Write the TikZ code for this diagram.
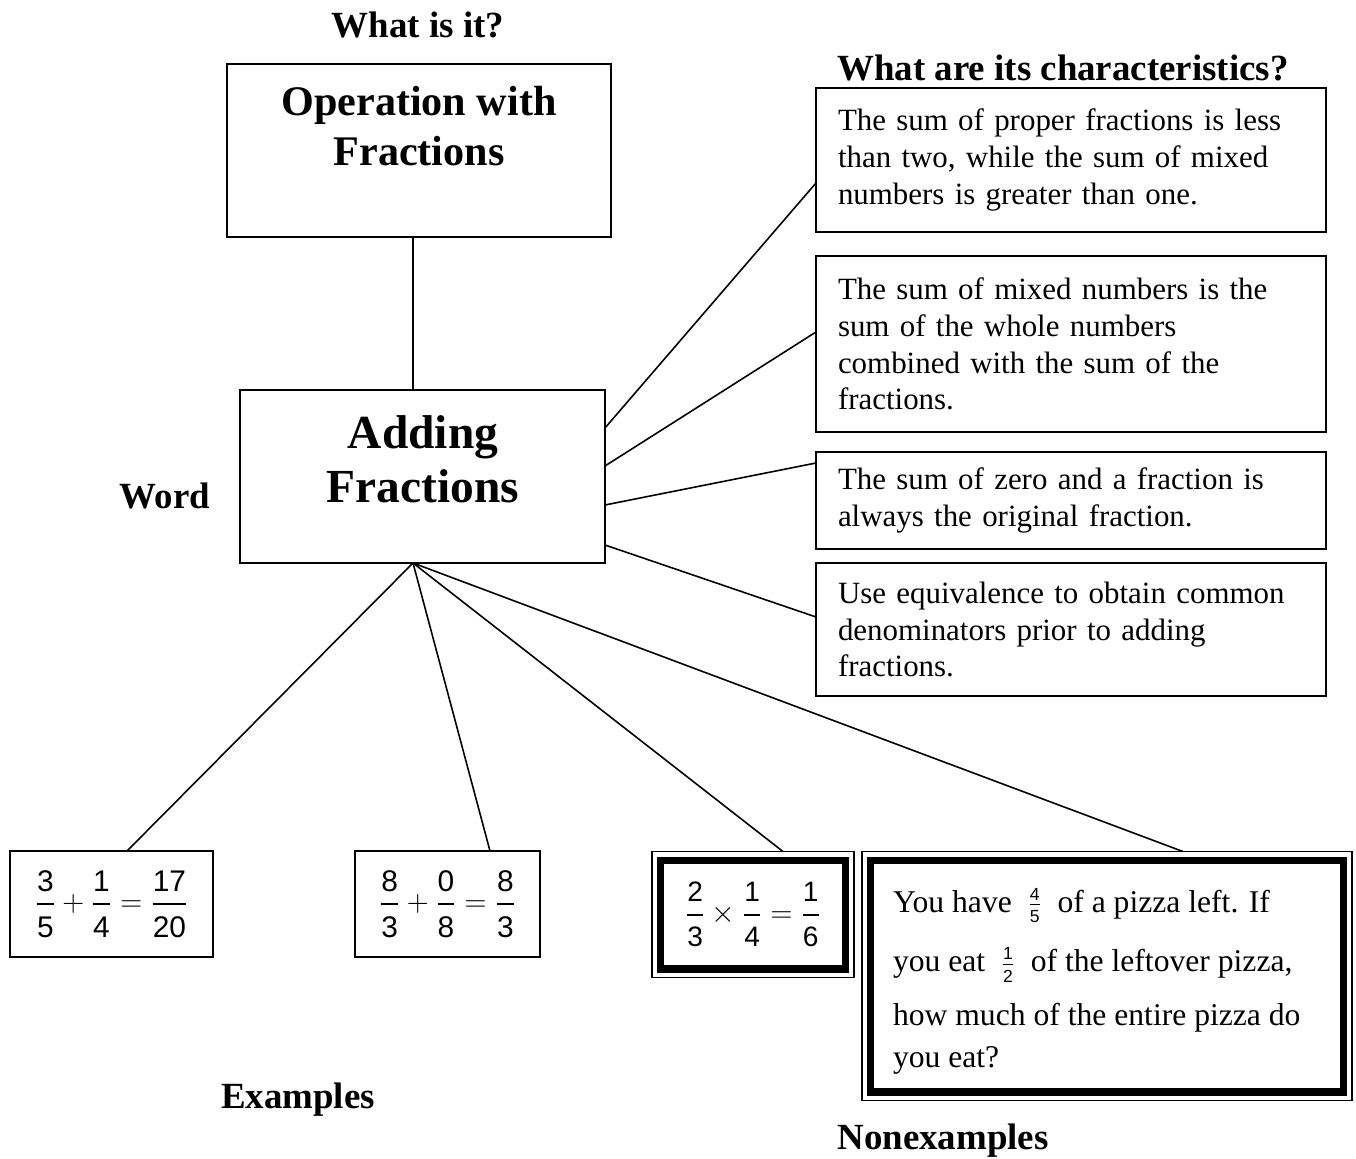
\documentclass[tikz,border=0pt]{standalone}
\usepackage{amsmath}
\usepackage{fontspec}
\setmainfont{Liberation Serif}
\newfontfamily\sansf{Liberation Sans}
\newcommand\bfr[2]{\genfrac{}{}{0.8pt}{0}{\mbox{\sansf #1}}{\mbox{\sansf\rule{0pt}{0.95em}#2}}}
\newcommand\sfr[2]{\genfrac{}{}{0.5pt}{1}{\mbox{\sansf\fontsize{10}{10}\selectfont #1}}{\mbox{\sansf\fontsize{10}{10}\selectfont #2}}}
\begin{document}
\begin{tikzpicture}[x=0.02cm,y=-0.02cm,
  every node/.style={inner sep=0pt,outer sep=0pt},
  box/.style={draw,line width=0.9pt},
  conn/.style={line width=0.9pt},
  head/.style={font={\fontsize{21}{25}\selectfont\bfseries}},
  big/.style={font={\fontsize{24}{28.5}\selectfont\bfseries},align=center},
  bigger/.style={font={\fontsize{27}{31}\selectfont\bfseries},align=center},
  cbox/.style={box,anchor=north west,minimum width=10.2cm,text width=9.32cm,inner xsep=0.44cm,
     align=left,font={\fontsize{17.6}{21}\selectfont}},
  ebox/.style={box,font={\fontsize{17}{20}\selectfont}},
  nbox/.style={box,path picture={\draw[line width=4pt]
     ([shift={(0.17cm,-0.17cm)}]path picture bounding box.north west) rectangle
     ([shift={(-0.17cm,0.17cm)}]path picture bounding box.south east);}}
]
\useasboundingbox (0,0) rectangle (1356,1159);

% headings
\node[head] (h1) at (418,25) {What is it?};
\node[head] (h2) at (1063,68) {What are its characteristics?};
\node[head] (h3) at (165,496) {Word};
\node[head] (h4) at (298,1100) {Examples};
\node[head] (h5) at (943,1141) {Nonexamples};

% central boxes
\node[box,minimum width=7.68cm,minimum height=3.46cm] (op) at (419,150.5) {};
\node[big] (optxt) at (419,126) {Operation with\\Fractions};
\node[box,minimum width=7.30cm,minimum height=3.46cm] (add) at (422.5,476.5) {};
\node[bigger] (addtxt) at (423,459.5) {Adding\\Fractions};

% characteristics
\node[cbox,minimum height=2.88cm] (c1) at (816,88) {The sum of proper fractions is less\\than two, while the sum of mixed\\numbers is greater than one.};
\node[cbox,minimum height=3.52cm] (c2) at (816,256) {The sum of mixed numbers is the\\sum of the whole numbers\\combined with the sum of the\\fractions.};
\node[cbox,minimum height=1.94cm] (c3) at (816,452) {The sum of zero and a fraction is\\always the original fraction.};
\node[cbox,minimum height=2.66cm,minimum width=10.12cm] (c4) at (816,563) {Use equivalence to obtain common\\denominators prior to adding\\fractions.};

% examples
\node[ebox,minimum width=4.06cm,minimum height=2.12cm] (e1) at (111.5,904) {$\bfr{3}{5}+\bfr{1}{4}=\bfr{17}{20}$};
\node[ebox,minimum width=3.70cm,minimum height=2.12cm] (e2) at (447.5,904) {$\bfr{8}{3}+\bfr{0}{8}=\bfr{8}{3}$};

% nonexamples
\node[ebox,nbox,font={\fontsize{16}{19}\selectfont},minimum width=4.04cm,minimum height=2.52cm] (n1) at (753,914.5) {$\bfr{2}{3}\times\bfr{1}{4}=\bfr{1}{6}$};
\node[nbox,minimum width=9.8cm,minimum height=4.98cm] (n2) at (1107,976) {};
\node[anchor=north west,align=left,font={\fontsize{18}{24}\selectfont}] (n2txt) at (893,888)
  {You have \ $\sfr{4}{5}$ \ of a pizza left. If\\[10pt]
   you eat \ $\sfr{1}{2}$ \ of the leftover pizza,\\[6.5pt]
   how much of the entire pizza do\\
   you eat?};

% connectors
\draw[conn] ([xshift=-0.12cm]op.south) -- ([xshift=-0.19cm]add.north);
\draw[conn] ([yshift=0.97cm]add.east) -- ([yshift=-0.46cm]c1.west);
\draw[conn] ([yshift=0.21cm]add.east) -- ([yshift=0.24cm]c2.west);
\draw[conn] ([yshift=-0.57cm]add.east) -- ([yshift=0.75cm]c3.west);
\draw[conn] ([yshift=-1.37cm]add.east) -- ([yshift=0.25cm]c4.west);
\draw[conn] ([xshift=-0.19cm]add.south) -- ([xshift=0.31cm]e1.north);
\draw[conn] ([xshift=-0.19cm]add.south) -- ([xshift=0.85cm]e2.north);
\draw[conn] ([xshift=-0.19cm]add.south) -- ([xshift=0.6cm]n1.north);
\draw[conn] ([xshift=-0.19cm]add.south) -- ([xshift=1.52cm]n2.north);
\end{tikzpicture}
\end{document}
